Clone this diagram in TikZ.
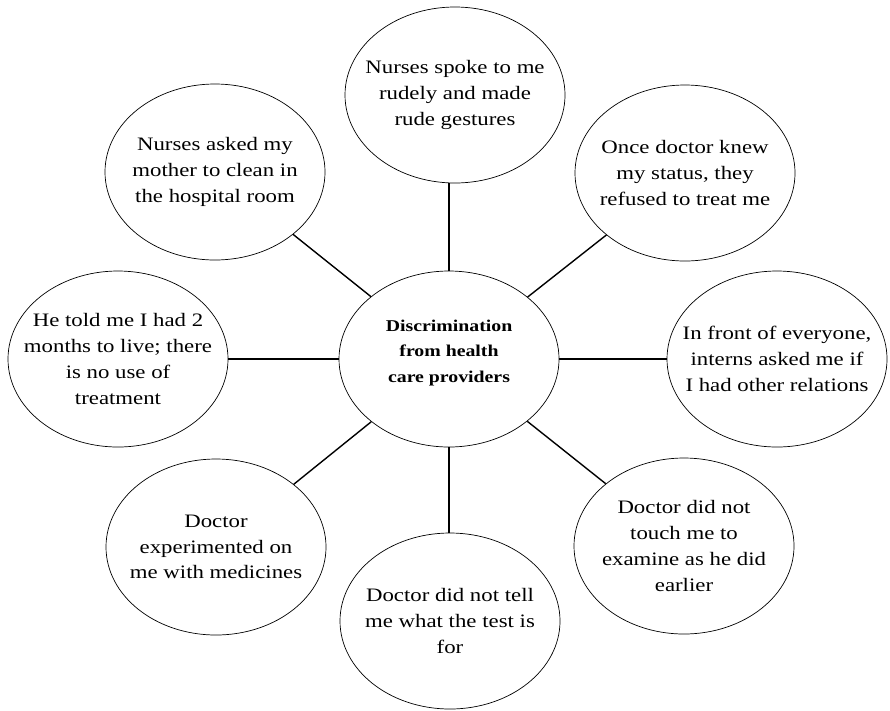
\documentclass[tikz,border=0pt]{standalone}
\usepackage{fontspec}
\setmainfont{Liberation Serif}[FakeStretch=1.2]
\usetikzlibrary{shapes.geometric}
\begin{document}
\begin{tikzpicture}[x=1pt,y=-1pt,
  bubble/.style={ellipse,draw,line width=0.7pt,minimum width=220pt,minimum height=176pt,inner sep=0pt},
  txt/.style={align=center,font=\fontsize{19}{25.7}\selectfont,inner sep=0pt},
  hubtxt/.style={align=center,font=\fontsize{16.5}{25.5}\selectfont\bfseries,inner sep=0pt},
  link/.style={line width=1.4pt}]
\useasboundingbox[fill=white] (0,0) rectangle (890,710);

% ellipses
\node[bubble] (c)  at (449,359) {};
\node[bubble] (t)  at (455,95)  {};
\node[bubble] (ul) at (215,172) {};
\node[bubble] (ur) at (685,173) {};
\node[bubble] (l)  at (118,359) {};
\node[bubble] (r)  at (777,359) {};
\node[bubble] (ll) at (216,547) {};
\node[bubble] (b)  at (450,621) {};
\node[bubble] (lr) at (684,546) {};

% texts
\node[hubtxt] (ct) at (449,353) {Discrimination\\from health\\care providers};
\node[txt] (tt)  at (t)  {Nurses spoke to me\\rudely and made\\rude gestures};
\node[txt] (ult) at (ul) {Nurses asked my\\mother to clean in\\the hospital room};
\node[txt] (urt) at (ur) {Once doctor knew\\my status, they\\refused to treat me};
\node[txt] (lt)  at (l)  {He told me I had 2\\months to live; there\\is no use of\\treatment};
\node[txt] (rt)  at (r)  {In front of everyone,\\interns asked me if\\I had other relations};
\node[txt] (llt) at (ll) {Doctor\\experimented on\\me with medicines};
\node[txt] (bt)  at (b)  {Doctor did not tell\\me what the test is\\for};
\node[txt] (lrt) at (lr) {Doctor did not\\touch me to\\examine as he did\\earlier};

% connectors
\draw[link] (c.north) -- (c.north |- t.south);
\draw[link] (c) -- (ul);
\draw[link] (c) -- (ur);
\draw[link] (c) -- (l);
\draw[link] (c) -- (r);
\draw[link] (c) -- (ll);
\draw[link] (c.south) -- (c.south |- b.north);
\draw[link] (c) -- (lr);
\end{tikzpicture}
\end{document}
